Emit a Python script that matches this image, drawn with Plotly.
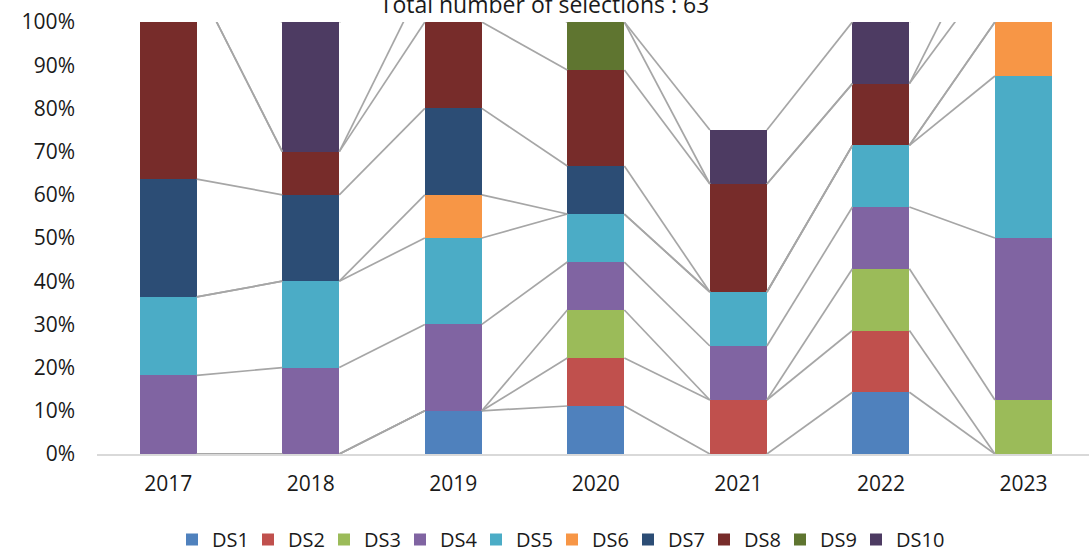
import plotly.graph_objects as go

years = ["2017", "2018", "2019", "2020", "2021", "2022", "2023"]
series_names = ["DS1", "DS2", "DS3", "DS4", "DS5", "DS6", "DS7", "DS8", "DS9", "DS10"]

# shares in percent (some years exceed 100% and are clipped by the axis)
DS1 = [0, 0, 10, 11.11, 0, 14.29, 0]
DS2 = [0, 0, 0, 11.11, 12.5, 14.29, 0]
DS3 = [0, 0, 0, 11.11, 0, 14.29, 12.5]
DS4 = [18.18, 20, 20, 11.11, 12.5, 14.29, 37.5]
DS5 = [18.18, 20, 20, 11.11, 12.5, 14.29, 37.5]
DS6 = [0, 0, 10, 0, 0, 0, 12.5]
DS7 = [27.27, 20, 20, 11.11, 0, 0, 0]
DS8 = [45.45, 10, 20, 22.22, 25, 14.29, 12.5]
DS9 = [0, 0, 10, 11.11, 0, 0, 12.5]
DS10 = [0, 30, 0, 0, 12.5, 14.29, 0]

values = [DS1, DS2, DS3, DS4, DS5, DS6, DS7, DS8, DS9, DS10]
colors = ["#4F81BD", "#C0504D", "#9BBB59", "#8064A2", "#4BACC6",
          "#F79646", "#2C4D75", "#772C2A", "#5F7530", "#4D3B62"]

title_text = "Total number of selections : 63"
FONT = "Open Sans"
BAR_W = 0.4

xs = list(range(len(years)))
fig = go.Figure()

# series lines (connect cumulative tops between adjacent bars)
cum = [0.0] * len(years)
tops = []
for v in values:
    cum = [c + a for c, a in zip(cum, v)]
    tops.append(list(cum))

for top in tops:
    lx, ly = [], []
    for i in range(len(years) - 1):
        lx += [xs[i] + BAR_W / 2, xs[i + 1] - BAR_W / 2, None]
        ly += [top[i], top[i + 1], None]
    fig.add_trace(go.Scatter(x=lx, y=ly, mode="lines", showlegend=False,
                             hoverinfo="skip",
                             line=dict(color="#A6A6A6", width=1.7)))

for k, (name, v, c) in enumerate(zip(series_names, values, colors)):
    fig.add_trace(go.Bar(x=xs, y=v, name=name, width=BAR_W,
                         legendwidth=31 if k < len(series_names) - 1 else 50,
                         marker=dict(color=c, line=dict(width=0))))

fig.update_layout(
    barmode="stack",
    width=1089, height=555,
    margin=dict(l=97, r=0, t=22, b=101),
    paper_bgcolor="white", plot_bgcolor="white",
    font=dict(family=FONT, size=21, color="#1a1a1a"),
    title=dict(text=title_text, x=0.5, xanchor="center", xref="container",
               y=1 - 5 / 555, yref="container", yanchor="middle",
               font=dict(family=FONT, size=23, color="#1a1a1a")),
    legend=dict(orientation="h", xref="container", yref="container",
                x=172 / 1089, xanchor="left", y=15.5 / 555, yanchor="middle",
                font=dict(size=20), itemwidth=30, traceorder="normal",
                entrywidthmode="pixels"),
    xaxis=dict(tickmode="array", tickvals=xs, ticktext=years,
               range=[-0.5, 6.46], showgrid=False, zeroline=False,
               showline=True, linecolor="#D9D9D9", linewidth=2,
               ticks="", ticklabelstandoff=10),
    yaxis=dict(range=[0, 100], dtick=10, ticksuffix="%", showgrid=False,
               zeroline=False, showline=False, ticks="",
               ticklabelstandoff=21),
)

fig.write_html("out.html", config={"displayModeBar": False},
               post_script="document.body.style.margin='0';")
